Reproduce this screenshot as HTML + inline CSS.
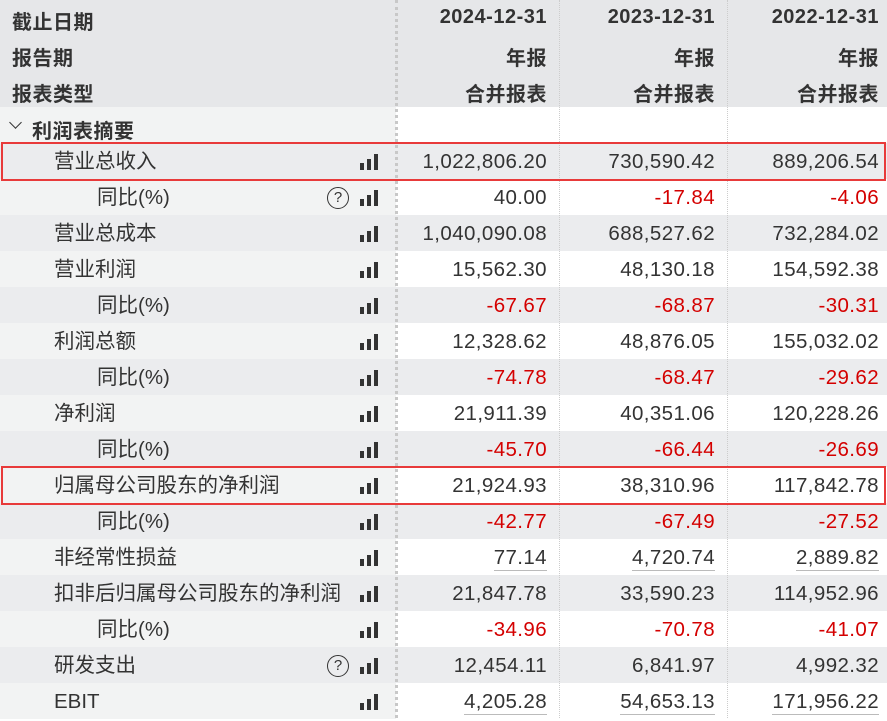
<!DOCTYPE html>
<html><head><meta charset="utf-8"><style>
*{margin:0;padding:0;box-sizing:border-box}
body{width:887px;height:718px;overflow:hidden;background:#fff;font-family:"Liberation Sans","Noto Sans CJK SC",sans-serif;color:#333;position:relative}
.r{position:absolute;left:0;width:887px;height:36px}
.g{background:#ebecee}
.w .lab{background:#f2f3f3}
.lab{position:absolute;left:0;top:0;width:396px;height:36px;font-size:20.5px;line-height:38px}
.v{position:absolute;top:0;height:36px;line-height:38px;font-size:20.5px;text-align:right;letter-spacing:0.4px}
.v1{right:340px}.v2{right:172px}.v3{right:8px}
.red{color:#d40000}
.u span{border-bottom:1.5px solid #bbb;padding-bottom:1px}
.bar{position:absolute;left:360px;top:11px;width:20px;height:16px}
.bar i{position:absolute;bottom:0;width:4px;background:#333}
.q{position:absolute;left:327px;top:8px;width:22px;height:22px;border:1.8px solid #333;border-radius:50%;font-size:15px;line-height:19px;text-align:center;font-weight:normal}
.hd{position:absolute;font-weight:bold;font-size:20px;letter-spacing:0.5px}
.sep{position:absolute;top:0;height:718px}
</style></head><body>
<div style="position:absolute;left:0;top:0;width:887px;height:107px;background:#e6e7e9"></div>
<div style="position:absolute;left:0;top:107px;width:396px;height:36px;background:#f2f3f3"></div>
<div class="hd" style="left:12px;top:6px">截止日期</div>
<div class="hd" style="left:12px;top:42px">报告期</div>
<div class="hd" style="left:12px;top:78px">报表类型</div>
<div class="hd" style="right:340px;top:6px">2024-12-31</div>
<div class="hd" style="right:172px;top:6px">2023-12-31</div>
<div class="hd" style="right:8px;top:6px">2022-12-31</div>
<div class="hd" style="right:340px;top:42px">年报</div>
<div class="hd" style="right:172px;top:42px">年报</div>
<div class="hd" style="right:8px;top:42px">年报</div>
<div class="hd" style="right:340px;top:78px">合并报表</div>
<div class="hd" style="right:172px;top:78px">合并报表</div>
<div class="hd" style="right:8px;top:78px">合并报表</div>
<div style="position:absolute;left:11px;top:118px;width:9px;height:9px;border-right:1.6px solid #333;border-bottom:1.6px solid #333;transform:rotate(45deg)"></div>
<div class="hd" style="left:32px;top:115px">利润表摘要</div>
<div id="rows"></div>
<div class="sep" style="left:395px;border-left:3px dotted #c8c8c8"></div>
<div class="sep" style="left:559px;border-left:1px dotted #ccc"></div>
<div class="sep" style="left:727px;border-left:1px dotted #ccc"></div>
<div style="position:absolute;left:1px;top:142px;width:885px;height:39px;border:2.5px solid #e83a3a"></div>
<div style="position:absolute;left:1px;top:466px;width:885px;height:39px;border:2.5px solid #e83a3a"></div>
<script>
var d=[["营业总收入",1,"1,022,806.20","730,590.42","889,206.54"],
["同比(%)",2,"40.00","-17.84","-4.06",1],
["营业总成本",1,"1,040,090.08","688,527.62","732,284.02"],
["营业利润",1,"15,562.30","48,130.18","154,592.38"],
["同比(%)",2,"-67.67","-68.87","-30.31"],
["利润总额",1,"12,328.62","48,876.05","155,032.02"],
["同比(%)",2,"-74.78","-68.47","-29.62"],
["净利润",1,"21,911.39","40,351.06","120,228.26"],
["同比(%)",2,"-45.70","-66.44","-26.69"],
["归属母公司股东的净利润",1,"21,924.93","38,310.96","117,842.78"],
["同比(%)",2,"-42.77","-67.49","-27.52"],
["非经常性损益",1,"77.14","4,720.74","2,889.82",0,1],
["扣非后归属母公司股东的净利润",1,"21,847.78","33,590.23","114,952.96"],
["同比(%)",2,"-34.96","-70.78","-41.07"],
["研发支出",1,"12,454.11","6,841.97","4,992.32",1],
["EBIT",1,"4,205.28","54,653.13","171,956.22",0,1]];
var h="";
d.forEach(function(r,i){
var c=i%2==0?"g":"w";
h+='<div class="r '+c+'" style="top:'+(143+i*36)+'px"><div class="lab"><span style="position:absolute;left:'+(r[1]==1?54:97)+'px">'+r[0]+'</span>'+(r[5]?'<div class="q">?</div>':'')+'<div class="bar"><i style="left:0;height:7px"></i><i style="left:7px;height:11px"></i><i style="left:14px;height:16px"></i></div></div>';
for(var k=0;k<3;k++){var v=r[2+k];h+='<div class="v v'+(k+1)+(v[0]=="-"?" red":"")+(r[6]?" u":"")+'"><span>'+v+'</span></div>';}
h+='</div>';});
document.getElementById("rows").innerHTML=h;
</script>
</body></html>
